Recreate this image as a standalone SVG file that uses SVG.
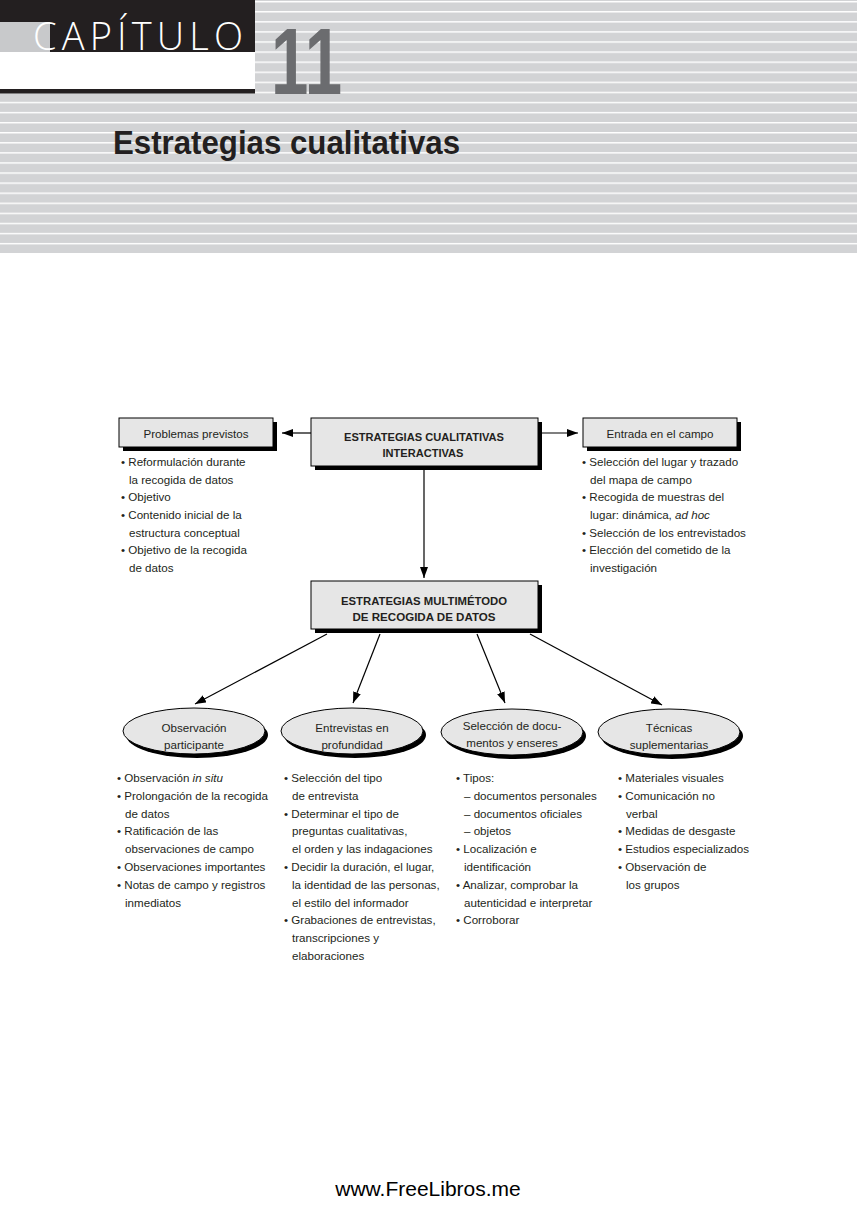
<svg xmlns="http://www.w3.org/2000/svg" width="857" height="1210" viewBox="0 0 857 1210">
<style>
.t{font-family:"Liberation Sans",Arial,sans-serif;font-size:11.6px;fill:#231f20}
.b{font-weight:bold}
.c{text-anchor:middle}
.box{fill:#e6e6e6;stroke:#000;stroke-width:1}
.sh{fill:#000}
.con{stroke:#000;stroke-width:1.2;fill:none;marker-end:url(#ah)}
</style>
<defs>
<marker id="ah" viewBox="0 0 11 8" refX="11" refY="4" markerWidth="11" markerHeight="8" orient="auto" markerUnits="userSpaceOnUse">
<path d="M0,0 L11,4 L0,8 Z" fill="#000"/>
</marker>
<pattern id="stripes" x="0" y="1" width="857" height="10.08" patternUnits="userSpaceOnUse">
<rect x="0" y="0" width="857" height="1.4" fill="#ffffff"/>
</pattern>
</defs>
<rect width="857" height="1210" fill="#ffffff"/>
<g id="header">
<rect x="0" y="0" width="857" height="253" fill="#d2d3d5"/>
<rect x="0" y="0" width="857" height="253" fill="url(#stripes)"/>
<rect x="0" y="0" width="255" height="52" fill="#231f20"/>
<rect x="0" y="22" width="50" height="30" fill="#c8c9cb"/>
<rect x="0" y="52" width="255" height="37" fill="#ffffff"/>
<rect x="0" y="89" width="255" height="4.5" fill="#231f20"/>
<text x="33" y="50" textLength="210" lengthAdjust="spacing" style="font-family:'Open Sans','Liberation Sans',sans-serif;font-weight:300;font-size:38px;fill:#ffffff">CAPÍTULO</text>
<text x="271" y="94" textLength="71" lengthAdjust="spacingAndGlyphs" style="font-family:'Liberation Sans',Arial,sans-serif;font-weight:bold;font-size:94px;fill:#6b6c6f">11</text>
<text x="113" y="154" textLength="347" lengthAdjust="spacingAndGlyphs" style="font-family:'Liberation Sans',Arial,sans-serif;font-weight:bold;font-size:33px;fill:#231f20">Estrategias cualitativas</text>
</g>
<g id="connectors">
<path class="con" d="M311,433 L282,433"/>
<path class="con" d="M538,433 L578,433"/>
<path class="con" d="M424,466 L424,578"/>
<path class="con" d="M327,634 L195,704"/>
<path class="con" d="M380,634 L353,703"/>
<path class="con" d="M477,634 L505,703"/>
<path class="con" d="M530,634 L662,705"/>
</g>
<g id="n-problemas">
<rect class="sh" x="123" y="422" width="154" height="29"/>
<rect class="box" x="119" y="418" width="154" height="29"/>
<text class="t c" x="196" y="438">Problemas previstos</text>
<text class="t"><tspan x="121" y="466">• Reformulación durante</tspan><tspan x="129" y="483.7">la recogida de datos</tspan><tspan x="121" y="501.3">• Objetivo</tspan><tspan x="121" y="519">• Contenido inicial de la</tspan><tspan x="129" y="536.7">estructura conceptual</tspan><tspan x="121" y="554.3">• Objetivo de la recogida</tspan><tspan x="129" y="572">de datos</tspan></text>
</g>
<g id="n-interactivas">
<rect class="sh" x="315" y="422" width="227" height="48"/>
<rect class="box" x="311" y="418" width="227" height="48"/>
<text class="t b c" x="424" y="441" textLength="160" lengthAdjust="spacingAndGlyphs">ESTRATEGIAS CUALITATIVAS</text>
<text class="t b c" x="423" y="457" textLength="81" lengthAdjust="spacingAndGlyphs">INTERACTIVAS</text>
</g>
<g id="n-entrada">
<rect class="sh" x="587" y="422" width="154" height="29"/>
<rect class="box" x="583" y="418" width="154" height="29"/>
<text class="t c" x="660" y="438">Entrada en el campo</text>
<text class="t"><tspan x="582" y="466">• Selección del lugar y trazado</tspan><tspan x="590" y="483.7">del mapa de campo</tspan><tspan x="582" y="501.3">• Recogida de muestras del</tspan><tspan x="590" y="519">lugar: dinámica, <tspan font-style="italic">ad hoc</tspan></tspan><tspan x="582" y="536.7">• Selección de los entrevistados</tspan><tspan x="582" y="554.3">• Elección del cometido de la</tspan><tspan x="590" y="572">investigación</tspan></text>
</g>
<g id="n-multimetodo">
<rect class="sh" x="315" y="585" width="227" height="48"/>
<rect class="box" x="311" y="581" width="227" height="48"/>
<text class="t b c" x="424" y="605" textLength="166" lengthAdjust="spacingAndGlyphs">ESTRATEGIAS MULTIMÉTODO</text>
<text class="t b c" x="424" y="621" textLength="143" lengthAdjust="spacingAndGlyphs">DE RECOGIDA DE DATOS</text>
</g>
<g id="n-observacion">
<ellipse class="sh" cx="197" cy="735" rx="71" ry="23"/>
<ellipse class="box" cx="194" cy="731" rx="71" ry="23"/>
<text class="t c" x="194" y="732">Observación</text>
<text class="t c" x="194" y="749">participante</text>
<text class="t"><tspan x="117" y="782">• Observación <tspan font-style="italic">in situ</tspan></tspan><tspan x="117" y="799.8">• Prolongación de la recogida</tspan><tspan x="125" y="817.6">de datos</tspan><tspan x="117" y="835.4">• Ratificación de las</tspan><tspan x="125" y="853.2">observaciones de campo</tspan><tspan x="117" y="871">• Observaciones importantes</tspan><tspan x="117" y="888.8">• Notas de campo y registros</tspan><tspan x="125" y="906.6">inmediatos</tspan></text>
</g>
<g id="n-entrevistas">
<ellipse class="sh" cx="355" cy="735" rx="71" ry="23"/>
<ellipse class="box" cx="352" cy="731" rx="71" ry="23"/>
<text class="t c" x="352" y="732">Entrevistas en</text>
<text class="t c" x="352" y="749">profundidad</text>
<text class="t"><tspan x="284" y="782">• Selección del tipo</tspan><tspan x="292" y="799.8">de entrevista</tspan><tspan x="284" y="817.6">• Determinar el tipo de</tspan><tspan x="292" y="835.4">preguntas cualitativas,</tspan><tspan x="292" y="853.2">el orden y las indagaciones</tspan><tspan x="284" y="871">• Decidir la duración, el lugar,</tspan><tspan x="292" y="888.8">la identidad de las personas,</tspan><tspan x="292" y="906.6">el estilo del informador</tspan><tspan x="284" y="924.4">• Grabaciones de entrevistas,</tspan><tspan x="292" y="942.2">transcripciones y</tspan><tspan x="292" y="960">elaboraciones</tspan></text>
</g>
<g id="n-documentos">
<ellipse class="sh" cx="515" cy="736" rx="71" ry="23"/>
<ellipse class="box" cx="512" cy="732" rx="71" ry="23"/>
<text class="t c" x="512" y="730">Selección de docu-</text>
<text class="t c" x="512" y="747">mentos y enseres</text>
<text class="t"><tspan x="456" y="782">• Tipos:</tspan><tspan x="464" y="799.8">– documentos personales</tspan><tspan x="464" y="817.6">– documentos oficiales</tspan><tspan x="464" y="835.4">– objetos</tspan><tspan x="456" y="853.2">• Localización e</tspan><tspan x="464" y="871">identificación</tspan><tspan x="456" y="888.8">• Analizar, comprobar la</tspan><tspan x="464" y="906.6">autenticidad e interpretar</tspan><tspan x="456" y="924.4">• Corroborar</tspan></text>
</g>
<g id="n-tecnicas">
<ellipse class="sh" cx="672" cy="736" rx="71" ry="23"/>
<ellipse class="box" cx="669" cy="732" rx="71" ry="23"/>
<text class="t c" x="669" y="732">Técnicas</text>
<text class="t c" x="669" y="749">suplementarias</text>
<text class="t"><tspan x="618" y="782">• Materiales visuales</tspan><tspan x="618" y="799.8">• Comunicación no</tspan><tspan x="626" y="817.6">verbal</tspan><tspan x="618" y="835.4">• Medidas de desgaste</tspan><tspan x="618" y="853.2">• Estudios especializados</tspan><tspan x="618" y="871">• Observación de</tspan><tspan x="626" y="888.8">los grupos</tspan></text>
</g>
<text x="428" y="1196" text-anchor="middle" style="font-family:'Liberation Sans',Arial,sans-serif;font-size:21px;fill:#000">www.FreeLibros.me</text>
</svg>
